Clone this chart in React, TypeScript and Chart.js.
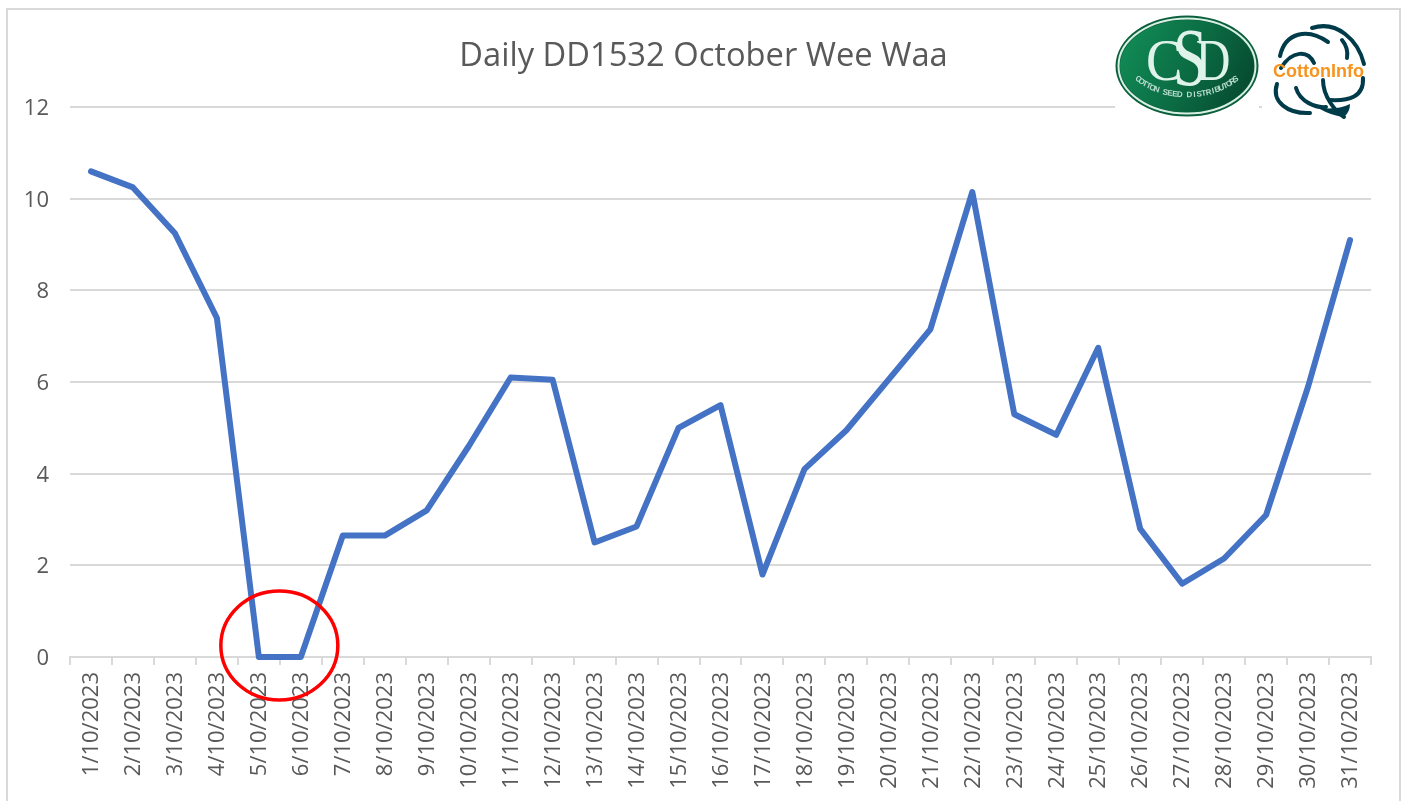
import React, { useEffect, useRef } from "react";
import { Chart, registerables } from "chart.js";

Chart.register(...registerables);

const titleText = "Daily DD1532 October Wee Waa";
const categories = [
  "1/10/2023", "2/10/2023", "3/10/2023", "4/10/2023", "5/10/2023", "6/10/2023", "7/10/2023", "8/10/2023",
  "9/10/2023", "10/10/2023", "11/10/2023", "12/10/2023", "13/10/2023", "14/10/2023", "15/10/2023", "16/10/2023",
  "17/10/2023", "18/10/2023", "19/10/2023", "20/10/2023", "21/10/2023", "22/10/2023", "23/10/2023", "24/10/2023",
  "25/10/2023", "26/10/2023", "27/10/2023", "28/10/2023", "29/10/2023", "30/10/2023", "31/10/2023",
];
const dd1532 = [
  10.6, 10.25, 9.25, 7.4, 0, 0, 2.65, 2.65, 3.2, 4.6, 6.1, 6.05, 2.5, 2.85, 5, 5.5, 1.8, 4.1, 4.95, 6.05, 7.15,
  10.15, 5.3, 4.85, 6.75, 2.8, 1.6, 2.15, 3.1, 5.9, 9.1,
];
const yTicks = [0, 2, 4, 6, 8, 10, 12];
const FONT = '"Open Sans", sans-serif';

function scaledLetter(ctx: CanvasRenderingContext2D, ch: string, x: number, y: number, size: number, sx: number) {
  ctx.save();
  ctx.translate(x, y);
  ctx.scale(sx, 1);
  ctx.font = `${size}px "Liberation Serif", serif`;
  ctx.fillText(ch, 0, 0);
  ctx.restore();
}

function drawCsdLogo(ctx: CanvasRenderingContext2D) {
  const cx = 1187, cy = 66;
  ctx.save();
  ctx.fillStyle = "#ffffff";
  ctx.fillRect(1115, 14, 144, 104);
  ctx.fillRect(1262, 14, 110, 104);
  ctx.beginPath();
  ctx.ellipse(cx, cy, 71.5, 50.5, 0, 0, Math.PI * 2);
  ctx.fillStyle = "#0b5f3c";
  ctx.fill();
  ctx.beginPath();
  ctx.ellipse(cx, cy, 68.5, 47.5, 0, 0, Math.PI * 2);
  ctx.strokeStyle = "#d8efe4";
  ctx.lineWidth = 2;
  ctx.stroke();
  const g = ctx.createLinearGradient(cx - 60, cy - 30, cx + 60, cy + 30);
  g.addColorStop(0, "#118a55");
  g.addColorStop(0.55, "#0b6a42");
  g.addColorStop(1, "#064a30");
  ctx.beginPath();
  ctx.ellipse(cx, cy, 67, 46, 0, 0, Math.PI * 2);
  ctx.fillStyle = g;
  ctx.fill();
  ctx.fillStyle = "#dff3ea";
  ctx.textAlign = "center";
  ctx.textBaseline = "alphabetic";
  scaledLetter(ctx, "C", 1164, 80, 60, 0.9);
  scaledLetter(ctx, "D", 1213, 80, 60, 0.8);
  scaledLetter(ctx, "S", 1190, 85, 82, 0.75);
  const caption = "COTTON SEED DISTRIBUTORS";
  ctx.font = 'bold 8px "Liberation Sans", sans-serif';
  ctx.fillStyle = "#b8ded0";
  ctx.textBaseline = "middle";
  const n = caption.length;
  const ex = 60, ey = 38, oy = 57;
  for (let i = 0; i < n; i++) {
    const t = Math.PI * (0.8 - (0.6 * i) / (n - 1));
    const px = cx + ex * Math.cos(t);
    const py = oy + ey * Math.sin(t);
    ctx.save();
    ctx.translate(px, py);
    ctx.rotate(Math.atan2(-ey * Math.cos(t), ex * Math.sin(t)) * 0.75);
    ctx.fillText(caption[i], 0, 0);
    ctx.restore();
  }
  ctx.restore();
}

function drawCottonLogo(ctx: CanvasRenderingContext2D) {
  ctx.save();
  ctx.strokeStyle = "#003b4a";
  ctx.lineWidth = 4;
  ctx.lineCap = "round";
  const curves: number[][] = [
    [1280, 56, 1285, 33, 1307, 27, 1328, 42],
    [1312, 28, 1337, 20, 1358, 40, 1364, 64],
    [1342, 40, 1347, 46, 1348, 52, 1347, 58],
    [1281, 68, 1292, 50, 1308, 50, 1314, 63],
    [1277, 84, 1271, 102, 1288, 114, 1310, 113],
    [1296, 88, 1300, 102, 1316, 108, 1326, 107],
    [1323, 80, 1323, 97, 1336, 112, 1344, 117],
    [1363, 78, 1364, 97, 1349, 101, 1330, 100],
  ];
  curves.forEach((c) => {
    ctx.beginPath();
    ctx.moveTo(c[0], c[1]);
    ctx.bezierCurveTo(c[2], c[3], c[4], c[5], c[6], c[7]);
    ctx.stroke();
  });
  ctx.fillStyle = "#003b4a";
  ctx.beginPath();
  ctx.moveTo(1318, 108);
  ctx.quadraticCurveTo(1332, 116, 1344, 117);
  ctx.quadraticCurveTo(1350, 112, 1350, 104);
  ctx.quadraticCurveTo(1338, 110, 1318, 108);
  ctx.closePath();
  ctx.fill();
  ctx.fillStyle = "#f7941d";
  ctx.font = 'bold 18px "Liberation Sans", sans-serif';
  ctx.textAlign = "left";
  ctx.textBaseline = "middle";
  ctx.fillText("CottonInfo", 1273, 72);
  ctx.restore();
}

const decorations = {
  id: "decorations",
  beforeDraw(chart: any) {
    const { ctx, width, height } = chart;
    // Centre the title over the 36..1371 span, as in the reference
    if (chart.titleBlock) chart.titleBlock.left = 36;
    ctx.save();
    ctx.fillStyle = "#ffffff";
    ctx.fillRect(0, 0, width, height);
    ctx.strokeStyle = "#d9d9d9";
    ctx.lineWidth = 2;
    ctx.beginPath();
    ctx.moveTo(7, height);
    ctx.lineTo(7, 9);
    ctx.lineTo(1400, 9);
    ctx.lineTo(1400, height);
    ctx.stroke();
    ctx.restore();
  },
  afterDraw(chart: any) {
    const { ctx, scales } = chart;
    drawCsdLogo(ctx);
    drawCottonLogo(ctx);
    const cx = (scales.x.getPixelForValue(4) + scales.x.getPixelForValue(5)) / 2;
    const cy = scales.y.getPixelForValue(0.25);
    ctx.save();
    ctx.strokeStyle = "#ff0000";
    ctx.lineWidth = 3.5;
    ctx.beginPath();
    ctx.ellipse(cx - 0.5, cy, 58.5, 54.5, 0, 0, Math.PI * 2);
    ctx.stroke();
    ctx.restore();
  },
};

export default function App() {
  const ref = useRef<HTMLCanvasElement>(null);
  useEffect(() => {
    const chart = new Chart(ref.current as HTMLCanvasElement, {
      type: "line",
      data: {
        labels: categories,
        datasets: [
          {
            label: "DD1532",
            data: dd1532,
            borderColor: "#4472c4",
            borderWidth: 6,
            pointRadius: 0,
            tension: 0,
            borderJoinStyle: "round",
            borderCapStyle: "round",
            clip: false,
          },
        ],
      },
      options: {
        responsive: false,
        animation: false,
        layout: { padding: { left: 0, right: 33, top: 0, bottom: 0 } },
        plugins: {
          legend: { display: false },
          tooltip: { enabled: false },
          title: {
            display: true,
            text: titleText,
            color: "#595959",
            font: { family: FONT, size: 32.7, weight: "normal" },
            padding: { top: 37, bottom: 31 },
          },
        },
        scales: {
          x: {
            type: "category",
            offset: true,
            afterFit(scale: any) {
              scale.height = 144;
            },
            grid: {
              offset: true,
              drawOnChartArea: false,
              drawTicks: true,
              tickLength: 8,
              color: "#d9d9d9",
              lineWidth: 2,
            },
            border: { display: true, color: "#d9d9d9", width: 2 },
            ticks: {
              autoSkip: false,
              minRotation: 90,
              maxRotation: 90,
              padding: 7,
              labelOffset: 1,
              color: "#595959",
              font: { family: FONT, size: 22 },
            },
          },
          y: {
            min: 0,
            max: 12,
            afterFit(scale: any) {
              scale.width = 70;
            },
            afterBuildTicks(scale: any) {
              scale.ticks = yTicks.map((value) => ({ value }));
            },
            grid: { color: "#d9d9d9", lineWidth: 2, drawTicks: false },
            border: { display: false },
            ticks: {
              padding: 21,
              labelOffset: 1.5,
              color: "#595959",
              font: { family: FONT, size: 22 },
            },
          },
        },
      },
      plugins: [decorations],
    } as any);
    return () => chart.destroy();
  }, []);
  return (
    <div style={{ position: "absolute", left: 0, top: 0, width: 1404, height: 801, background: "#fff" }}>
      <canvas ref={ref} width={1404} height={801} style={{ display: "block" }} />
    </div>
  );
}
